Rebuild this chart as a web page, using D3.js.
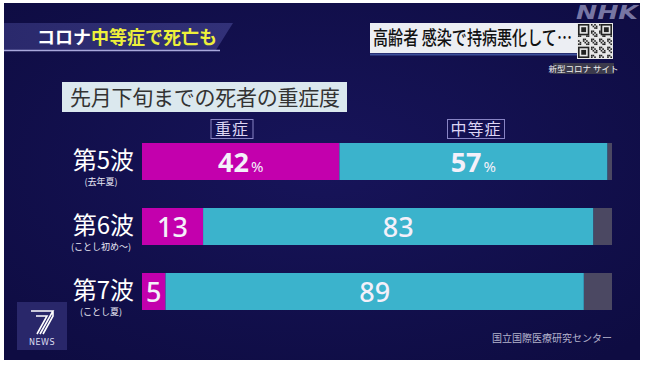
<!DOCTYPE html>
<html><head><meta charset="utf-8">
<script src="https://cdn.jsdelivr.net/npm/d3@7"></script>
<style>html,body{margin:0;padding:0;background:#fff;overflow:hidden}svg{display:block}</style>
</head><body>
<script>
// ---- data ----
const waves = ["第5波", "第6波", "第7波"];
const periods = ["(去年夏)", "(ことし初め～)", "(ことし夏)"];
const severe = [42, 13, 5];       // 重症
const moderate = [57, 83, 89];    // 中等症
const seriesNames = ["重症", "中等症"];
const subtitle = "先月下旬までの死者の重症度";
const source = "国立国際医療研究センター";

const W = 647, H = 367;
const FONT = "'Noto Sans CJK JP','Noto Sans',sans-serif";
const svg = d3.select("body").append("svg").attr("width", W).attr("height", H);

const defs = svg.append("defs");
const bg = defs.append("radialGradient").attr("id", "bg").attr("cx", "50%").attr("cy", "45%").attr("r", "70%");
bg.append("stop").attr("offset", "0%").attr("stop-color", "#17145a");
bg.append("stop").attr("offset", "100%").attr("stop-color", "#0e0c42");
const tg = defs.append("linearGradient").attr("id", "tg");
tg.append("stop").attr("offset", "0%").attr("stop-color", "#2a296c");
tg.append("stop").attr("offset", "100%").attr("stop-color", "#323178");

svg.append("rect").attr("x", 4).attr("y", 3).attr("width", 636).attr("height", 357).attr("fill", "url(#bg)");

// ---- title banner ----
svg.append("path").attr("d", "M4,23 L233,23 L216,50 L4,50 Z").attr("fill", "url(#tg)");
svg.append("line").attr("x1", 4).attr("x2", 220).attr("y1", 50.5).attr("y2", 50.5).attr("stroke", "#a9a8dc").attr("stroke-width", 1.5);
const tt = svg.append("text").attr("x", 37).attr("y", 44).attr("font-family", FONT).attr("font-size", 18).attr("font-weight", 700);
tt.append("tspan").attr("fill", "#ffffff").text("コロナ");
tt.append("tspan").attr("fill", "#eef03a").text("中等症で死亡も");

// ---- top right headline ----
svg.append("rect").attr("x", 370).attr("y", 23).attr("width", 230).attr("height", 30).attr("fill", "#eceef3");
svg.append("line").attr("x1", 370).attr("x2", 580).attr("y1", 54.5).attr("y2", 54.5).attr("stroke", "#3c4f9a").attr("stroke-width", 2);
svg.append("text").attr("x", 373).attr("y", 45).attr("font-family", FONT).attr("font-size", 19).attr("font-weight", 500)
  .attr("fill", "#111").attr("textLength", 199).attr("lengthAdjust", "spacingAndGlyphs").text("高齢者 感染で持病悪化して…");

// QR-like decoration
const qx = 578, qy = 24, qs = 34, n = 21, cs = qs / n;
const qr = svg.append("g");
qr.append("rect").attr("x", qx - 1).attr("y", qy - 1).attr("width", qs + 2).attr("height", qs + 2).attr("fill", "#e8e8e8");
const cells = [];
for (let i = 0; i < n; i++) for (let j = 0; j < n; j++) {
  const inF = (a, b) => a < 7 && b < 7;
  if (inF(i, j) || inF(n - 1 - i, j) || inF(i, n - 1 - j)) continue;
  if (((i * 7 + j * 13 + i * j) % 5) < 2) cells.push([i, j]);
}
qr.selectAll("rect.c").data(cells).join("rect").attr("class", "c")
  .attr("x", d => qx + d[0] * cs).attr("y", d => qy + d[1] * cs).attr("width", cs).attr("height", cs).attr("fill", "#222");
[[0, 0], [n - 7, 0], [0, n - 7]].forEach(([i, j]) => {
  qr.append("rect").attr("x", qx + i * cs + cs / 2).attr("y", qy + j * cs + cs / 2).attr("width", 6 * cs).attr("height", 6 * cs).attr("fill", "none").attr("stroke", "#222").attr("stroke-width", cs);
  qr.append("rect").attr("x", qx + (i + 2) * cs).attr("y", qy + (j + 2) * cs).attr("width", 3 * cs).attr("height", 3 * cs).attr("fill", "#222");
});
svg.append("rect").attr("x", 553).attr("y", 63).attr("width", 61).attr("height", 11).attr("fill", "#3b3a4c");
svg.append("text").attr("x", 583.5).attr("y", 72).attr("text-anchor", "middle").attr("font-family", FONT).attr("font-size", 8.5)
  .attr("fill", "#f0f0f0").text("新型コロナ サイト");

// NHK logo
svg.append("text").attr("x", 607).attr("y", 19).attr("text-anchor", "middle").attr("font-family", "'DejaVu Sans',sans-serif")
  .attr("font-size", 20).attr("font-weight", 700).attr("font-style", "italic").attr("fill", "#a7a6cf").attr("fill-opacity", 0.7)
  .attr("textLength", 62).attr("lengthAdjust", "spacingAndGlyphs").text("NHK");

// ---- subtitle ----
svg.append("rect").attr("x", 62).attr("y", 82).attr("width", 285).attr("height", 30).attr("fill", "#dbe8ee");
svg.append("text").attr("x", 70).attr("y", 105).attr("font-family", FONT).attr("font-size", 21).attr("fill", "#333")
  .attr("textLength", 270).text(subtitle);

// ---- scales ----
const x = d3.scaleLinear().domain([0, 100]).range([142, 612]);
const y = d3.scalePoint().domain(waves).range([161.5, 291.5]);
const barH = 37;

const rows = waves.map((w, i) => ({ wave: w, period: periods[i], severe: severe[i], moderate: moderate[i], first: i === 0 }));

// legend labels
const legendX = [232, 476];
seriesNames.forEach((s, i) => {
  const wBox = s.length * 15 + 12;
  svg.append("rect").attr("x", legendX[i] - wBox / 2).attr("y", 119.5).attr("width", wBox).attr("height", 19)
    .attr("fill", "none").attr("stroke", "#8884c4").attr("stroke-width", 1);
  svg.append("text").attr("x", legendX[i]).attr("y", 135).attr("text-anchor", "middle").attr("font-family", FONT)
    .attr("font-size", 16).attr("letter-spacing", 1).attr("fill", "#ddd6f4").text(s);
});

const g = svg.selectAll("g.row").data(rows).join("g").attr("class", "row");
// remainder (gray)
g.append("rect").attr("x", d => x(d.severe + d.moderate)).attr("y", d => y(d.wave) - barH / 2)
  .attr("width", d => x(100) - x(d.severe + d.moderate)).attr("height", barH).attr("fill", "#4b4862");
g.append("rect").attr("x", x(0)).attr("y", d => y(d.wave) - barH / 2)
  .attr("width", d => x(d.severe) - x(0)).attr("height", barH).attr("fill", "#c300ad");
g.append("rect").attr("x", d => x(d.severe)).attr("y", d => y(d.wave) - barH / 2)
  .attr("width", d => x(d.severe + d.moderate) - x(d.severe)).attr("height", barH).attr("fill", "#3bb3cc");

// value labels
function valueLabel(sel, xc, val) {
  sel.append("text").attr("x", xc).attr("y", d => y(d.wave) + 10).attr("text-anchor", "middle")
    .attr("font-family", "'Noto Sans','Open Sans',sans-serif").attr("font-size", 27)
    .attr("font-weight", d => d.first ? 700 : 500).attr("fill", "#f4f0fa")
    .each(function (d) {
      const t = d3.select(this);
      t.append("tspan").text(val(d));
      if (d.first) t.append("tspan").attr("font-size", 15).attr("font-weight", 400).attr("dx", 2).text("%");
    });
}
valueLabel(g, d => (x(0) + x(d.severe)) / 2, d => d.severe);
valueLabel(g, d => (x(d.severe) + x(d.severe + d.moderate)) / 2, d => d.moderate);

// row labels
g.append("text").attr("x", 134).attr("y", d => y(d.wave) + 7).attr("text-anchor", "end").attr("font-family", FONT)
  .attr("font-size", 24).attr("fill", "#ffffff").text(d => d.wave);
g.append("text").attr("x", 101).attr("y", d => y(d.wave) + 23).attr("text-anchor", "middle").attr("font-family", FONT)
  .attr("font-size", 9).attr("fill", "#e8e8f4").text(d => d.period);

// source
svg.append("text").attr("x", 612).attr("y", 342).attr("text-anchor", "end").attr("font-family", FONT)
  .attr("font-size", 10).attr("fill", "#b4b3cc").text(source);

// 7 NEWS logo
svg.append("rect").attr("x", 17).attr("y", 302).attr("width", 50).attr("height", 48).attr("fill", "#29276a");
svg.append("path").attr("d", "M31,311 L53,311 L40,334 M36,316 L47,316 L37,334 M53,311 L53,316 L43,334")
  .attr("fill", "none").attr("stroke", "#ffffff").attr("stroke-width", 1.6);
svg.append("text").attr("x", 42).attr("y", 345).attr("text-anchor", "middle").attr("font-family", "'DejaVu Sans',sans-serif")
  .attr("font-size", 8).attr("fill", "#dcdcf0").attr("letter-spacing", 0.5).text("NEWS");
</script>
</body></html>
